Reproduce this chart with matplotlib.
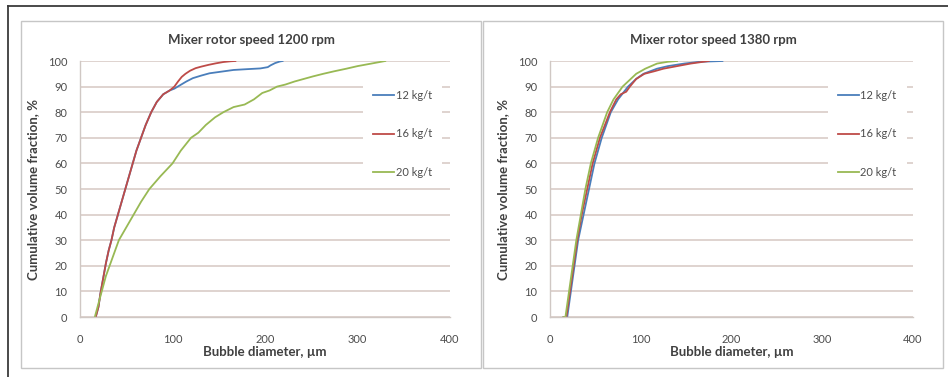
import matplotlib
matplotlib.use('Agg')
import matplotlib.pyplot as plt
from matplotlib.patches import Rectangle
from matplotlib.lines import Line2D

plt.rcParams['font.family'] = ['Lato', 'DejaVu Sans']

W, H = 948, 377

# --- data (bubble diameter um, cumulative %) ---
labels = ['12 kg/t', '16 kg/t', '20 kg/t']
colors = ['#4a7ebb', '#be4b48', '#98b954']

# 1200 rpm
d1200_12 = [17, 20, 22, 25, 28, 31, 34, 37, 41, 45, 49, 53, 57, 61, 66, 71, 77, 83, 90, 97, 102, 108, 115, 122, 131, 140, 152, 166, 180, 195, 203, 206, 211, 216, 219]
c1200_12 = [0, 4, 9, 15, 21, 26, 30, 35, 40, 45, 50, 55, 60, 65, 70, 75, 80, 84, 87, 88.5, 89.2, 90.5, 92, 93.3, 94.3, 95.2, 95.8, 96.5, 96.8, 97.1, 97.6, 98.3, 99.2, 99.8, 100]
d1200_16 = [17, 20, 22, 25, 28, 31, 34, 37, 41, 45, 49, 53, 57, 61, 66, 71, 77, 83, 90, 97, 102, 106, 110, 114, 119, 125, 131, 139, 147, 155, 163, 168]
c1200_16 = [0, 4, 9, 15, 21, 26, 30, 35, 40, 45, 50, 55, 60, 65, 70, 75, 80, 84, 87, 88.5, 90, 92, 93.8, 95, 96.2, 97.2, 97.8, 98.5, 99.1, 99.6, 99.9, 100]
d1200_20 = [16, 19, 22, 25, 28, 32, 37, 42, 50, 58, 66, 75, 87, 100, 109, 120, 128, 136, 146, 155, 166, 178, 188, 197, 205, 213, 222, 232, 242, 252, 263, 275, 288, 300, 315, 330]
c1200_20 = [0, 4, 8, 12, 16, 20, 25, 30, 35, 40, 45, 50, 55, 60, 65, 70, 72, 75, 78, 80, 82, 83, 85, 87.5, 88.5, 90, 90.8, 92, 93, 94, 95, 96, 97, 98, 99, 100]

# 1380 rpm
d1380_12 = [15, 19, 23, 27, 31, 37, 43, 49, 57, 67, 75, 86, 95, 103, 118, 130, 148, 165, 190]
c1380_12 = [0, 0, 10, 20, 30, 40, 50, 60, 70, 80, 85, 90, 93, 95, 97, 98, 99, 99.7, 100]
d1380_16 = [15, 18, 22, 26, 30, 35, 41, 47, 55, 66, 73, 78, 84, 88, 95, 104, 115, 125, 140, 155, 175]
c1380_16 = [0, 0, 10, 20, 30, 40, 50, 60, 70, 80, 85, 87, 88, 90, 93, 95, 96, 97, 98, 99, 100]
d1380_20 = [15, 17, 21, 25, 29, 34, 39, 45, 53, 63, 70, 80, 95, 105, 118, 130, 140]
c1380_20 = [0, 0, 10, 20, 30, 40, 50, 60, 70, 80, 85, 90, 95, 97, 99, 99.7, 100]

panels = [
    ('Mixer rotor speed 1200 rpm', [(d1200_12, c1200_12), (d1200_16, c1200_16), (d1200_20, c1200_20)]),
    ('Mixer rotor speed 1380 rpm', [(d1380_12, c1380_12), (d1380_16, c1380_16), (d1380_20, c1380_20)]),
]

# pixel layout helpers
def fx(px):
    return px / W

def fy(py):
    return 1 - py / H

fig = plt.figure(figsize=(W / 100, H / 100), dpi=100)
fig.patch.set_facecolor('white')

# outer page frame
fig.add_artist(Line2D([fx(8), fx(948)], [fy(6), fy(6)], color='#3a3a3a', lw=1.3))
fig.add_artist(Line2D([fx(8), fx(8)], [fy(6), fy(377)], color='#3a3a3a', lw=1.3))

# chart boxes: (left, right, plot left, plot right)
boxes = [(21, 481, 80, 450), (483, 943, 550, 913)]
top_px, bot_px = 61, 317

for (bl, br, pl, pr), (title, series) in zip(boxes, panels):
    fig.add_artist(Rectangle((fx(bl), fy(368)), fx(br - bl), (368 - 21) / H,
                             transform=fig.transFigure, fill=False,
                             edgecolor='#c6c6c6', lw=1.0))
    ax = fig.add_axes([fx(pl), fy(bot_px), fx(pr - pl), (bot_px - top_px) / H])
    for (d, c), col, lab in zip(series, colors, labels):
        ax.plot(d, c, color=col, lw=1.3, label=lab)
    ax.set_xlim(0, 400)
    ax.set_ylim(0, 100)
    ax.set_xticks([0, 100, 200, 300, 400])
    ax.set_yticks(range(0, 101, 10))
    ax.grid(axis='y', color='#dcd0cc', lw=1.3)
    ax.set_axisbelow(True)
    for s in ['top', 'right']:
        ax.spines[s].set_visible(False)
    for s in ['left', 'bottom']:
        ax.spines[s].set_color('#d0c8c4')
        ax.spines[s].set_linewidth(1.0)
    ax.tick_params(length=0, labelsize=8, labelcolor='#4d4d4d')
    ax.tick_params(axis='y', pad=9)
    ax.tick_params(axis='x', pad=12)
    leg = ax.legend(loc='upper left', bbox_to_anchor=(0.765, 0.925), fontsize=8,
                    frameon=True, facecolor='white', edgecolor='none', framealpha=1,
                    borderaxespad=0, borderpad=0.9, handlelength=1.9,
                    handletextpad=0.15, labelspacing=2.45)
    for t in leg.get_texts():
        t.set_color('#4d4d4d')
    fig.text(fx((bl + br) / 2), fy(40), title, ha='center', va='center',
             fontsize=9.5, fontweight='bold', color='#404040')
    fig.text(fx((pl + pr) / 2), fy(352), 'Bubble diameter, µm', ha='center', va='center',
             fontsize=9.5, fontweight='bold', color='#404040')
    fig.text(fx(pl - 47), fy((top_px + bot_px) / 2), 'Cumulative volume fraction, %',
             ha='center', va='center', rotation=90,
             fontsize=9.5, fontweight='bold', color='#404040')

fig.savefig('out.png', dpi=100)
